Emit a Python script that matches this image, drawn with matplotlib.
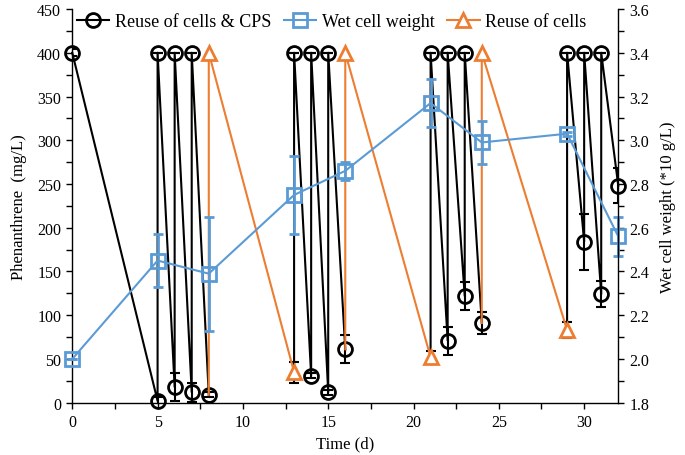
import numpy as np
import matplotlib.pyplot as plt
from matplotlib.ticker import MultipleLocator

nan = np.nan

# Reuse of cells & CPS (phenanthrene, mg/L) - sawtooth, gaps as nan
cps_x = [0, 5, 5, 6, 6, 7, 7, 8, nan, 13, 13, 14, 14, 15, 15, 16, nan,
         21, 21, 22, 22, 23, 23, 24, nan, 29, 29, 30, 30, 31, 31, 32]
cps_y = [400, 2, 400, 18, 400, 12, 400, 9, nan, 35, 400, 31, 400, 12, 400, 61, nan,
         52, 400, 71, 400, 122, 400, 91, nan, 83, 400, 184, 400, 124, 400, 248]
cps_err = [4, 4, 0, 16, 0, 11, 0, 3, nan, 12, 0, 3, 0, 3, 0, 16, nan,
           7, 0, 16, 0, 16, 0, 13, nan, 9, 0, 32, 0, 15, 0, 20]
cps_nomarker = [9, 17, 25]  # points covered by triangles

# Reuse of cells
cells_x = [8, 8, 13, nan, 16, 16, 21, nan, 24, 24, 29]
cells_y = [9, 400, 35, nan, 61, 400, 52, nan, 91, 400, 83]
cells_marker = [1, 2, 5, 6, 9, 10]

# Wet cell weight (*10 g/L)
wcw_x = [0, 5, 8, 13, 16, 21, 24, 29, 32]
wcw_y = [2.00, 2.45, 2.39, 2.75, 2.86, 3.17, 2.99, 3.03, 2.56]
wcw_err = [0.0, 0.12, 0.26, 0.18, 0.04, 0.11, 0.10, 0.01, 0.09]

black = 'black'
blue = '#5B9BD5'
orange = '#ED7D31'

plt.rcParams['font.family'] = 'Liberation Serif'
fig, ax = plt.subplots(figsize=(6.85, 4.56), dpi=100)
fig.subplots_adjust(left=0.1055, right=0.9026, bottom=0.1147, top=0.978)
ax2 = ax.twinx()

ax.errorbar(cps_x, cps_y, yerr=cps_err, fmt='none', ecolor=black,
            elinewidth=1.5, capsize=3.5, capthick=1.5, zorder=2)
mk = [i for i in range(len(cps_x)) if not np.isnan(cps_x[i]) and i not in cps_nomarker]
l1, = ax.plot(cps_x, cps_y, '-o', color=black, lw=1.5, ms=10, mfc='none',
              mew=2, markevery=mk, zorder=3, label='Reuse of cells & CPS',
              clip_on=False)
l3, = ax.plot(cells_x, cells_y, '-^', color=orange, lw=1.5, ms=10, mfc='white',
              mew=2, markevery=cells_marker, zorder=4, label='Reuse of cells',
              clip_on=False)

ax2.errorbar(wcw_x, wcw_y, yerr=wcw_err, fmt='none', ecolor=blue,
             elinewidth=2, capsize=3.5, capthick=2, clip_on=False)
l2, = ax2.plot(wcw_x, wcw_y, '-s', color=blue, lw=1.5, ms=10, mfc='none',
               mew=2, label='Wet cell weight', clip_on=False)

ax.set_xlim(0, 32)
ax.set_ylim(0, 450)
ax2.set_ylim(1.8, 3.6)
ax.xaxis.set_major_locator(MultipleLocator(5))
ax.xaxis.set_minor_locator(MultipleLocator(2.5))
ax.yaxis.set_major_locator(MultipleLocator(50))
ax.yaxis.set_minor_locator(MultipleLocator(25))
ax2.yaxis.set_major_locator(MultipleLocator(0.2))
ax2.yaxis.set_minor_locator(MultipleLocator(0.1))
ax2.yaxis.set_major_formatter(plt.FormatStrFormatter('%.1f'))

for a in (ax, ax2):
    a.tick_params(which='both', direction='out', length=4, width=1, labelsize=11.5,
                  pad=4)
    a.spines['top'].set_visible(False)
for s in ('left', 'bottom'):
    ax.spines[s].set_linewidth(1)
ax2.spines['right'].set_linewidth(1)
ax.spines['right'].set_visible(False)
ax2.spines['left'].set_visible(False)
ax2.spines['bottom'].set_visible(False)

ax.set_xlabel('Time (d)', fontsize=12)
ax.set_ylabel('Phenanthrene  (mg/L)', fontsize=12, labelpad=7)
ax2.set_ylabel('Wet cell weight (*10 g/L)', fontsize=12, labelpad=8)

ax2.legend(handles=[l1, l2, l3], loc='upper center', ncol=3, frameon=False,
           fontsize=13, bbox_to_anchor=(0.475, 1.03), handlelength=1.8,
           columnspacing=0.7, handletextpad=0.3)

plt.savefig('out.png', dpi=100)
